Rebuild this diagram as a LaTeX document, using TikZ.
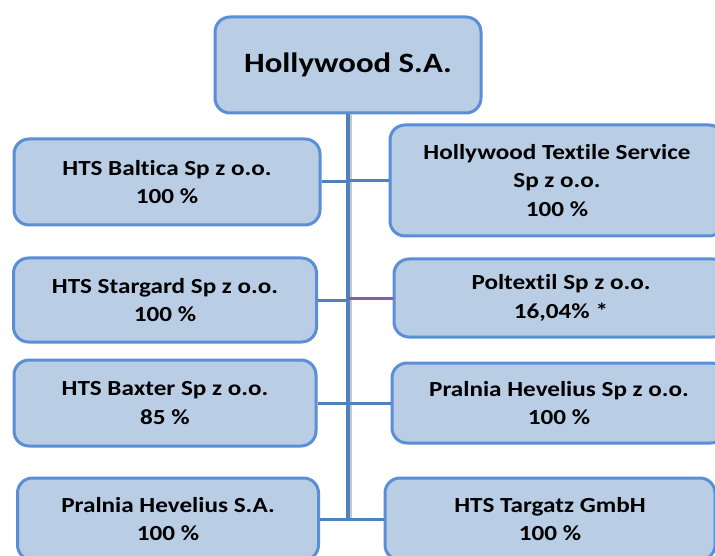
\documentclass[tikz,border=0pt]{standalone}
\usepackage{fontspec}
\setmainfont[FakeStretch=1.17, Ligatures={NoCommon}]{Carlito}
\definecolor{boxfill}{RGB}{185,205,229}
\definecolor{boxline}{RGB}{90,142,213}
\definecolor{trunk}{RGB}{79,129,189}
\definecolor{purp}{RGB}{128,96,160}
\begin{document}
\begin{tikzpicture}[x=1pt,y=-1pt,
  org/.style={draw=boxline, fill=boxfill, line width=3pt, rounded corners=15pt,
    align=center, inner sep=0pt, font=\bfseries\fontsize{21.5}{28.5}\selectfont},
  conn/.style={draw=trunk, line width=3pt}]
\useasboundingbox (0,0) rectangle (715,556);
\begin{scope}
\clip (0,0) rectangle (715,556);
\node[org, minimum width=266pt, minimum height=96pt, font=\bfseries\fontsize{28}{32}\selectfont] (top) at (348,65) {Hollywood S.A.};
\coordinate (tend) at (348,519);
% trunk with slight shadow
\draw[line width=2pt, black!22] ([xshift=3pt]top.south) -- ([xshift=3pt]tend);
\draw[line width=4pt, trunk] (top.south) -- (tend);
\node[org, minimum width=306pt, minimum height=86pt] (l1) at (167,182) {HTS Baltica Sp z o.o.\\100 \%};
\node[org, minimum width=303pt, minimum height=84pt] (l2) at (165,300) {HTS Stargard Sp z o.o.\\100 \%};
\node[org, minimum width=302pt, minimum height=86pt] (l3) at (165,403) {HTS Baxter Sp z o.o.\\85 \%};
\node[org, minimum width=301pt, minimum height=82pt] (l4) at (168,519) {Pralnia Hevelius S.A.\\100 \%};
\node[org, minimum width=334pt, minimum height=111pt] (r1) at (557,180.5) {Hollywood Textile Service\\Sp z o.o.\\100 \%};
\node[org, minimum width=334pt, minimum height=78pt] (r2) at (561,298) {Poltextil Sp z o.o.\\16,04\% *};
\node[org, minimum width=334pt, minimum height=80pt] (r3) at (559,403) {Pralnia Hevelius Sp z o.o.\\100 \%};
\node[org, minimum width=330pt, minimum height=82pt] (r4) at (550,519) {HTS Targatz GmbH\\100 \%};
\path[conn] (l1.east) -- (l1.east -| tend);
\path[conn] (l2.east) -- (l2.east -| tend);
\path[conn] (l3.east) -- (l3.east -| tend);
\path[conn] (l4.east) -- (l4.east -| tend);
\path[conn] (r1.west) -- (r1.west -| tend);
\path[conn, draw=purp] (r2.west) -- (r2.west -| tend);
\path[conn] (r3.west) -- (r3.west -| tend);
\path[conn] (r4.west) -- (r4.west -| tend);
\end{scope}
\end{tikzpicture}
\end{document}
